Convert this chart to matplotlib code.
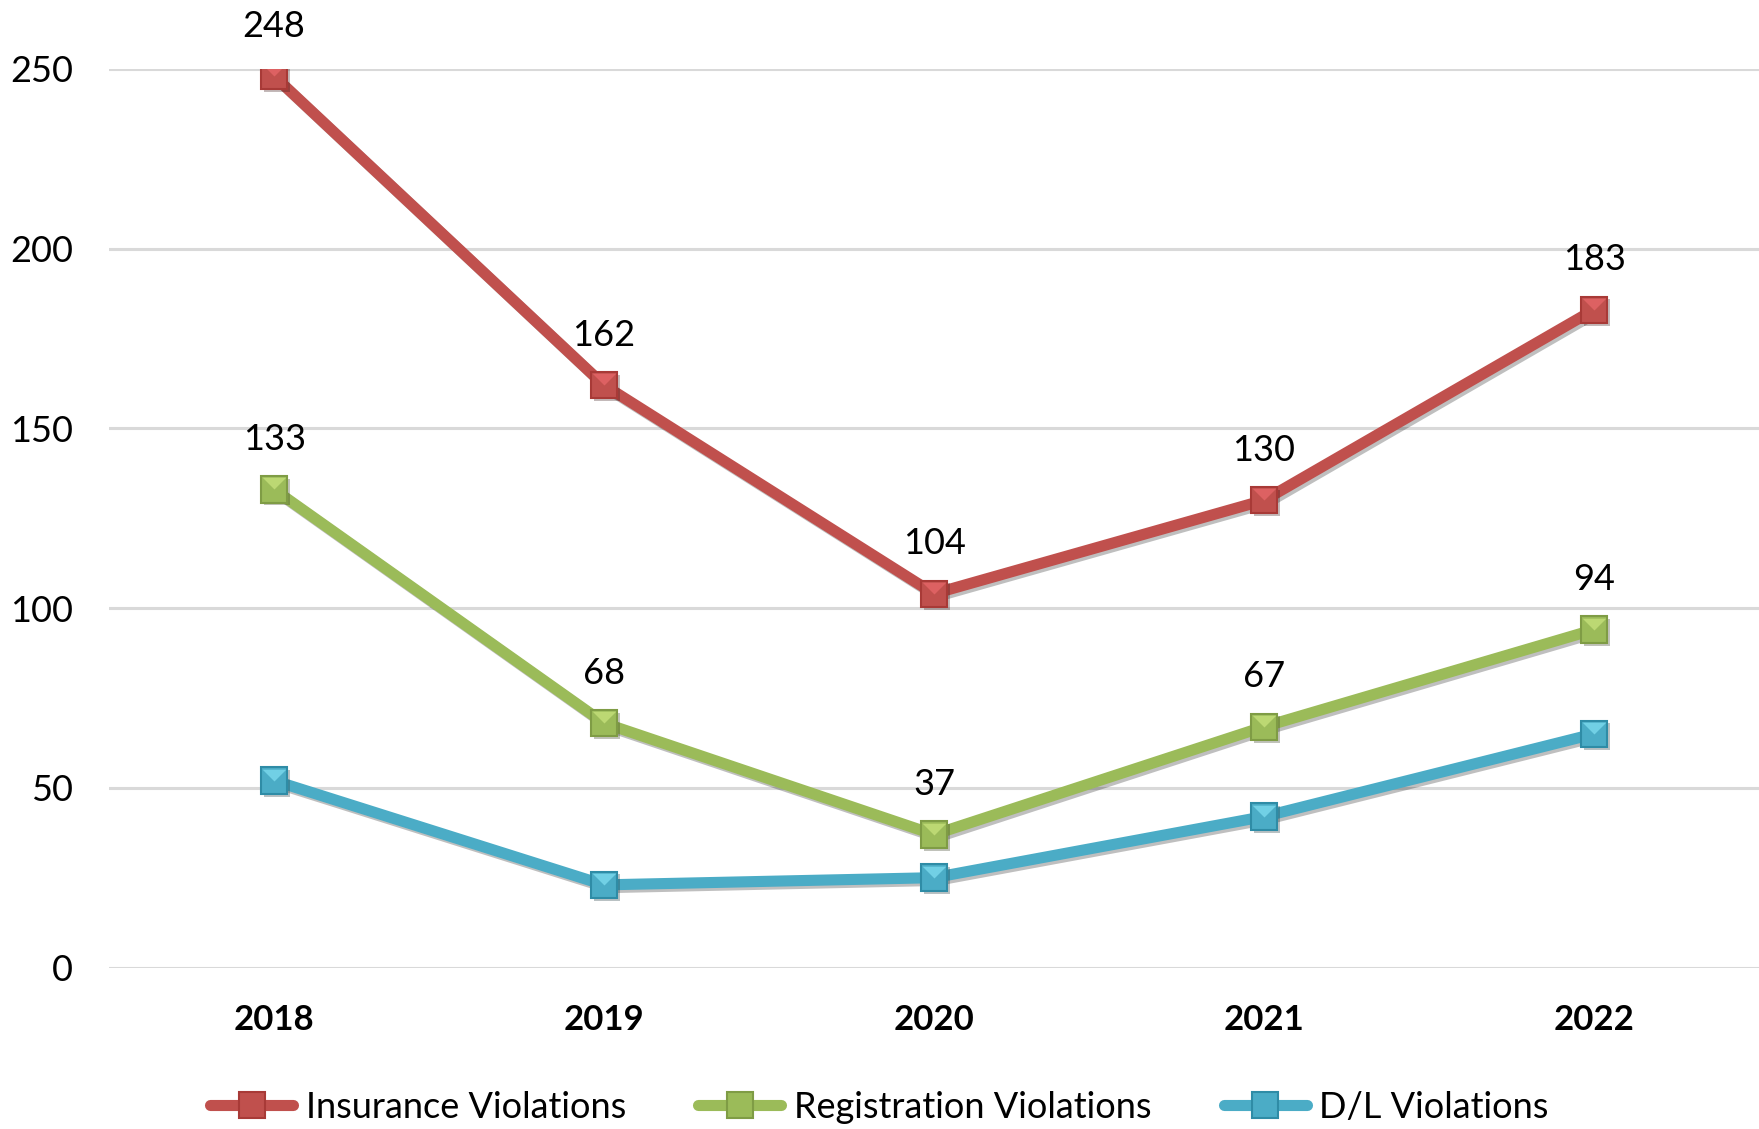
import numpy as np
import matplotlib
matplotlib.use("Agg")
import matplotlib.pyplot as plt
import matplotlib.patheffects as pe
from matplotlib.lines import Line2D

years = ["2018", "2019", "2020", "2021", "2022"]
insurance = [248, 162, 104, 130, 183]
registration = [133, 68, 37, 67, 94]
dl = [52, 23, 25, 42, 65]

series = [
    ("Insurance Violations", insurance, "#C0504D", "#A83A37", "#E8686A", True),
    ("Registration Violations", registration, "#9BBB59", "#7F9C45", "#C8E27C", True),
    ("D/L Violations", dl, "#4BACC6", "#2F8CA6", "#7FDDF0", False),
]

plt.rcParams["font.family"] = ["Lato", "DejaVu Sans"]

fig = plt.figure(figsize=(17.59, 11.29), dpi=100)
ax = fig.add_axes([0.062, 0.143, 0.938, 0.796])

x = np.arange(len(years))
# bevel: lighter triangle on the top half of each square marker
tri = [(-1, 1), (1, 1), (0, 0), (-1, 1)]

handles = []
for name, vals, col, dark, light, labels in series:
    ax.plot(x, vals, color=col, lw=8, solid_capstyle="round", zorder=3,
            path_effects=[pe.SimpleLineShadow(offset=(2, -2), alpha=0.25, rho=0.4),
                          pe.Normal()])
    ax.plot(x, vals, ls="none", marker="s", ms=19, mfc=col, mec=dark, mew=1.5, zorder=4,
            path_effects=[pe.SimplePatchShadow(offset=(2, -2), alpha=0.3), pe.Normal()])
    ax.plot(x, vals, ls="none", marker=tri, ms=17, mfc=light, mec="none", alpha=0.75, zorder=5)
    if labels:
        for xi, v in zip(x, vals):
            ax.annotate(str(v), (xi, v), xytext=(0, 36), textcoords="offset points",
                        ha="center", va="center", fontsize=26, color="black")
    handles.append(Line2D([], [], color=col, lw=8, solid_capstyle="round",
                          marker="s", ms=19, mfc=col, mec=dark, mew=1.5))

ax.set_xlim(-0.5, len(years) - 0.5)
ax.set_ylim(0, 250)
ax.set_yticks([0, 50, 100, 150, 200, 250])
ax.set_xticks(x)
ax.set_xticklabels(years, fontweight="bold")
ax.tick_params(axis="y", length=0, pad=26, labelsize=26)
ax.tick_params(axis="x", length=0, pad=26, labelsize=25)
ax.grid(axis="y", color="#D9D9D9", lw=2.2, zorder=0)
ax.set_axisbelow(True)
for s in ax.spines.values():
    s.set_visible(False)

fig.legend(handles=[h for h in handles], labels=[s[0] for s in series],
           loc="center", bbox_to_anchor=(0.5, 0.019), ncol=3, frameon=False,
           fontsize=26, handlelength=2.3, handletextpad=0.35, columnspacing=2.0)

fig.savefig("out.png", dpi=100)
